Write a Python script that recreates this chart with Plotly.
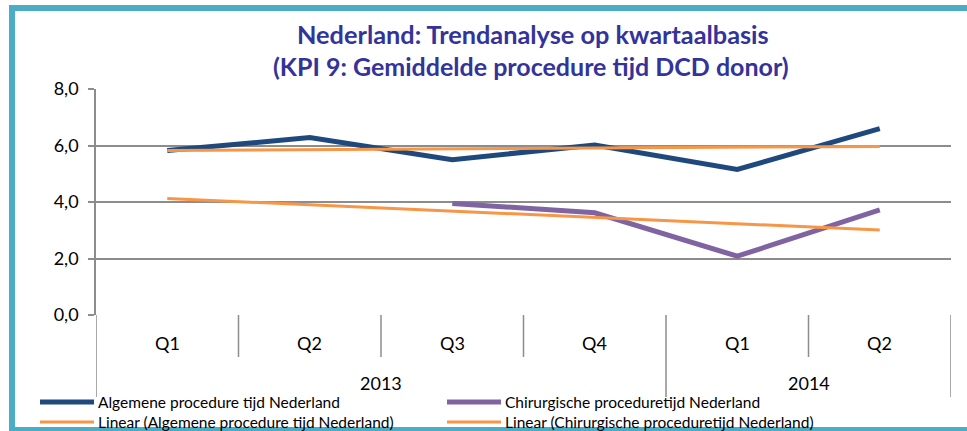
import numpy as np
import plotly.graph_objects as go

# ---- data ----
quarters = ["Q1", "Q2", "Q3", "Q4", "Q1", "Q2"]
years = ["2013", "2014"]
year_spans = [(0, 3), (4, 5)]  # index ranges of quarters per year
algemene = [5.82, 6.28, 5.50, 6.02, 5.15, 6.60]
chirurgisch = [None, None, 3.95, 3.62, 2.08, 3.72]
y_ticks = [0, 2, 4, 6, 8]

names = [
    "Algemene procedure tijd Nederland",
    "Chirurgische proceduretijd Nederland",
    "Linear (Algemene procedure tijd Nederland)",
    "Linear (Chirurgische proceduretijd Nederland)",
]

x = np.arange(len(quarters))

def trend(vals):
    xs = np.array([i for i, v in enumerate(vals) if v is not None], dtype=float)
    ys = np.array([v for v in vals if v is not None], dtype=float)
    k, b = np.polyfit(xs, ys, 1)
    return k * x + b

alg_trend = trend(algemene)
chir_trend = trend(chirurgisch)

BLUE = "#1F497D"
PURPLE = "#8064A2"
ORANGE = "#F79646"
TITLE = "#333399"
GRID = "#8C8C8C"
BORDER = "#4BACC6"
FONT = "Lato, sans-serif"

W, H = 967, 431
L, R, T, B = 96, 16, 89, 116
pw, ph = W - L - R, H - T - B

def px(xp):
    return (xp - L) / pw

def py(yp):
    return (H - B - yp) / ph

fig = go.Figure()
fig.add_trace(go.Scatter(x=x, y=algemene, mode="lines", name=names[0],
                         line=dict(color=BLUE, width=5), connectgaps=False))
fig.add_trace(go.Scatter(x=x, y=chirurgisch, mode="lines", name=names[1],
                         line=dict(color=PURPLE, width=5), connectgaps=False))
fig.add_trace(go.Scatter(x=x, y=alg_trend, mode="lines", name=names[2],
                         line=dict(color=ORANGE, width=3)))
fig.add_trace(go.Scatter(x=x, y=chir_trend, mode="lines", name=names[3],
                         line=dict(color=ORANGE, width=3)))

shapes = []
annotations = []

# category separators
n = len(quarters)
year_bounds = set()
for s, e in year_spans:
    year_bounds.add(s - 0.5)
    year_bounds.add(e + 0.5)
for i in range(n + 1):
    xb = i - 0.5
    y1 = py(397) if xb in year_bounds else py(357)
    shapes.append(dict(type="line", xref="x", yref="paper", x0=xb, x1=xb,
                       y0=0, y1=y1, line=dict(color=GRID, width=1.5)))

# quarter labels
for i, q in enumerate(quarters):
    annotations.append(dict(x=i, y=py(343), xref="x", yref="paper", text=q,
                            showarrow=False, font=dict(size=18, color="#000000", family=FONT),
                            xanchor="center", yanchor="middle"))
# year labels
for yr, (s, e) in zip(years, year_spans):
    annotations.append(dict(x=(s + e) / 2, y=py(383), xref="x", yref="paper", text=yr,
                            showarrow=False, font=dict(size=18, color="#000000", family=FONT),
                            xanchor="center", yanchor="middle"))

# title
annotations.append(dict(x=px(533), y=py(34), xref="paper", yref="paper",
                        text="<b>Nederland: Trendanalyse op kwartaalbasis</b>",
                        showarrow=False, font=dict(size=25.3, color=TITLE, family=FONT),
                        xanchor="center", yanchor="middle"))
annotations.append(dict(x=px(531), y=py(66), xref="paper", yref="paper",
                        text="<b>(KPI 9: Gemiddelde procedure tijd DCD donor)</b>",
                        showarrow=False, font=dict(size=25, color=TITLE, family=FONT),
                        xanchor="center", yanchor="middle"))

# legend (custom)
leg = [(names[0], BLUE, 5, 40, 402), (names[1], PURPLE, 5, 447, 402),
       (names[2], ORANGE, 3, 40, 422), (names[3], ORANGE, 3, 447, 422)]
for name, col, w, xl, yl in leg:
    shapes.append(dict(type="line", xref="paper", yref="paper",
                       x0=px(xl), x1=px(xl + 54), y0=py(yl), y1=py(yl),
                       line=dict(color=col, width=w)))
    annotations.append(dict(x=px(xl + 56), y=py(yl), xref="paper", yref="paper",
                            text=name, showarrow=False,
                            font=dict(size=15.5, color="#000000", family=FONT),
                            xanchor="left", yanchor="middle"))

# frame border
shapes.append(dict(type="rect", xref="paper", yref="paper",
                   x0=px(9), x1=px(15), y0=py(431), y1=py(5),
                   fillcolor=BORDER, line=dict(width=0), layer="above"))
shapes.append(dict(type="rect", xref="paper", yref="paper",
                   x0=px(9), x1=px(967), y0=py(11), y1=py(5),
                   fillcolor=BORDER, line=dict(width=0), layer="above"))
shapes.append(dict(type="rect", xref="paper", yref="paper",
                   x0=px(9), x1=px(967), y0=py(431), y1=py(427),
                   fillcolor=BORDER, line=dict(width=0), layer="above"))

fig.update_layout(
    width=W, height=H,
    margin=dict(l=L, r=R, t=T, b=B),
    paper_bgcolor="white", plot_bgcolor="white",
    showlegend=False,
    separators=",.",
    font=dict(family=FONT, size=18, color="#000000"),
    shapes=shapes, annotations=annotations,
    xaxis=dict(range=[-0.5, n - 0.5], showticklabels=False, showgrid=False,
               zeroline=False, showline=False, ticks="", fixedrange=True),
    yaxis=dict(range=[0, 8], tickvals=y_ticks, tickformat=".1f",
               showgrid=True, gridcolor=GRID, gridwidth=2,
               zeroline=False, showline=True, linecolor=GRID, linewidth=1.5,
               ticks="outside", ticklen=6, tickcolor=GRID, tickwidth=2,
               tickfont=dict(size=18, family=FONT), ticklabelstandoff=6),
)

fig.write_html("out.html", config={"displayModeBar": False},
               post_script="document.body.style.margin='0';")
